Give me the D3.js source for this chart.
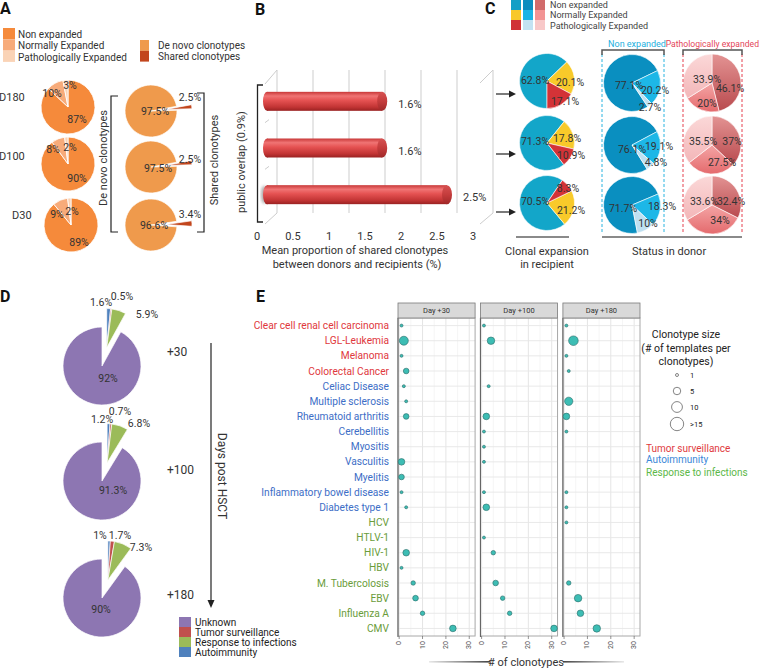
<!DOCTYPE html>
<html><head><meta charset="utf-8">
<script src="https://cdn.jsdelivr.net/npm/d3@7/dist/d3.min.js"></script>
<style>body{margin:0;background:#fff}svg{display:block}text{font-family:Roboto,"Liberation Sans",Arial,sans-serif}</style>
</head><body>
<svg id="c" width="760" height="669"></svg>
<script>
// ================= DATA =================
// Panel A
const aRows = ["D180", "D100", "D30"];
const aExpCats = ["Non expanded", "Normally Expanded", "Pathologically Expanded"];
const aExpVals = [[87, 10, 3], [90, 8, 2], [89, 9, 2]];
const aOriginCats = ["De novo clonotypes", "Shared clonotypes"];
const aOriginVals = [[97.5, 2.5], [97.5, 2.5], [96.6, 3.4]];
// Panel B
const bCats = ["D180", "D100", "D30"];
const bVals = [1.6, 1.6, 2.5];
const bTicks = [0, 0.5, 1, 1.5, 2, 2.5, 3];
// Panel C
const cCats = ["Non expanded", "Normally Expanded", "Pathologically Expanded"];
const cRecipient = [[62.8, 20.1, 17.1], [71.3, 17.8, 10.9], [70.5, 21.2, 8.3]];
const cDonorNon = [[77.1, 20.2, 2.7], [76.1, 19.1, 4.8], [71.7, 18.3, 10]];
const cDonorPath = [[46.1, 20, 33.9], [37, 27.5, 35.5], [32.4, 34, 33.6]];
// Panel D
const dDays = ["+30", "+100", "+180"];
const dCats = ["Autoimmunity", "Tumor surveillance", "Response to infections", "Unknown"];
const dVals = [[1.6, 0.5, 5.9, 92], [1.2, 0.7, 6.8, 91.3], [1, 1.7, 7.3, 90]];
const dLegend = ["Unknown", "Tumor surveillance", "Response to infections", "Autoimmunity"];
// Panel E
const eConditions = ["Clear cell renal cell carcinoma", "LGL-Leukemia", "Melanoma", "Colorectal Cancer",
  "Celiac Disease", "Multiple sclerosis", "Rheumatoid arthritis", "Cerebellitis", "Myositis", "Vasculitis",
  "Myelitis", "Inflammatory bowel disease", "Diabetes type 1", "HCV", "HTLV-1", "HIV-1", "HBV",
  "M. Tubercolosis", "EBV", "Influenza A", "CMV"];
const eGroup = ["T","T","T","T","A","A","A","A","A","A","A","A","A","I","I","I","I","I","I","I","I"];
const eDays = ["Day +30", "Day +100", "Day +180"];
const eCount30  = [1, 2, 1, 3, 2, 3, 3, null, null, 1, 1, 1, 3, null, null, 3, 1, 6, 7, 10, 23];
const eSize30   = [1, 7, 1, 3, 1, 1, 3, null, null, 4, 3, 1, 1, null, null, 4, 1, 2, 3, 2, 4];
const eCount100 = [1, 4, null, null, 3, null, 2, 1, 1, 1, null, 1, 2, null, 1, 5, null, 6, 9, 12, 31];
const eSize100  = [1, 5, null, null, 1, null, 4, 1, 1, 1, null, 1, 4, null, 1, 2, null, 3, 2, 2, 4];
const eCount180 = [1, 4, 1, 2, null, 2, 1, 1, null, null, null, 1, 1, 1, null, null, null, 2, 6, 7, 14];
const eSize180  = [1, 8, 1, 1, null, 6, 4, 1, null, null, null, 1, 1, 1, null, null, null, 2, 5, 4, 5];
const eXTicks = [0, 10, 20, 30];
const eSizeLegend = [1, 5, 10, 15];
const eSizeLegendLabels = ["1", "5", "10", ">15"];
const eGroupLegend = ["Tumor surveillance", "Autoimmunity", "Response to infections"];

// ================= HELPERS =================
const svg = d3.select("#c");
const TXT = "#333";
const defs = svg.append("defs");
function txt(g, x, y, s, o = {}) {
  const t = g.append("text").attr("x", x).attr("y", y).text(s)
    .attr("font-size", o.size || 11).attr("fill", o.fill || TXT)
    .attr("text-anchor", o.anchor || "start").attr("dominant-baseline", o.base || "central");
  if (o.weight) t.attr("font-weight", o.weight);
  if (o.family) t.attr("font-family", o.family);
  if (o.rotate != null) t.attr("transform", `rotate(${o.rotate},${x},${y})`);
  return t;
}
function letter(x, y, s) {
  svg.append("text").attr("x", x).attr("y", y).text(s).attr("font-size", 16)
    .attr("font-weight", "bold").attr("font-family", "'Liberation Sans',Arial,sans-serif").attr("fill", "#111");
}
function vgrad(id, stops) {
  const lg = defs.append("linearGradient").attr("id", id).attr("x1", 0).attr("y1", 0).attr("x2", 0).attr("y2", 1);
  stops.forEach(s => lg.append("stop").attr("offset", s[0]).attr("stop-color", s[1]));
}
const RAD = Math.PI / 180;
function drawPie(g, vals, colors, o) {
  const dir = o.dir || 1;
  const gen = d3.pie().sort(null).value(d => d)
    .startAngle(o.start * RAD).endAngle((o.start + dir * 360) * RAD);
  const arcs = gen(vals);
  const arc = d3.arc().innerRadius(0).outerRadius(o.r);
  const gg = g.append("g").attr("transform", `translate(${o.cx},${o.cy})`);
  arcs.forEach((a, i) => {
    let tx = 0, ty = 0;
    if (o.explode && o.explode.idx.includes(i)) {
      let ang;
      if (o.explode.group) {
        const sel = o.explode.idx.map(k => arcs[k]);
        ang = (d3.min(sel, s => Math.min(s.startAngle, s.endAngle)) + d3.max(sel, s => Math.max(s.startAngle, s.endAngle))) / 2;
      } else ang = (a.startAngle + a.endAngle) / 2;
      tx = Math.sin(ang) * o.explode.dist; ty = -Math.cos(ang) * o.explode.dist;
    }
    gg.append("path").attr("d", arc(a)).attr("fill", colors[i])
      .attr("stroke", "#fff").attr("stroke-width", o.sw == null ? 0.8 : o.sw)
      .attr("transform", `translate(${tx},${ty})`);
  });
  if (o.labels) o.labels.forEach((p, i) => {
    if (p) txt(gg, p[0], p[1], vals[i] + "%", { size: o.fs || 11, anchor: "middle", fill: o.lc || "#333" });
  });
}

// ================= PANEL A =================
letter(0, 14, "A");
const aExpColors = ["#F58A3B", "#F7AB7A", "#FAD3B6"];
const aOrigColors = ["#EF9A4C", "#C2461D"];
const legA = svg.append("g");
aExpCats.forEach((c, i) => {
  legA.append("rect").attr("x", 3).attr("y", 28 + i * 11.3).attr("width", 12).attr("height", 11.3).attr("fill", aExpColors[i]);
  txt(legA, 18, 34 + i * 11.5, c, { size: 10 });
});
aOriginCats.forEach((c, i) => {
  legA.append("rect").attr("x", 140).attr("y", 40 + i * 10.8).attr("width", 9).attr("height", 10.8).attr("fill", aOrigColors[i]);
  txt(legA, 158, 45 + i * 11.5, c, { size: 10 });
});
const aLeftC = [[68, 107], [68, 164], [71, 225]];
const aRightC = [[151, 111], [151, 167], [151, 225]];
const aRowLabelY = [97, 156, 215];
const aRowLabelX = [-1, -1, 12];
const aExpLabels = [
  [[9, 12], [-16, -14], [2, -22]],
  [[9, 14], [-15, -15], [2, -17]],
  [[8, 17], [-14, -11], [1, -14]]];
const aOrigLabels = [
  [[4, 0], [39, -14]],
  [[7, 1], [39, -8]],
  [[3, 0], [39, -11]]];
aRows.forEach((r, i) => {
  txt(svg, aRowLabelX[i], aRowLabelY[i], r, { size: 11 });
  drawPie(svg, aExpVals[i], aExpColors, { cx: aLeftC[i][0], cy: aLeftC[i][1], r: 27, start: 0, labels: aExpLabels[i], fs: 10.5 });
  const shared = aOriginVals[i][1] * 3.6;
  const mid = i === 2 ? 88 : 84;
  drawPie(svg, aOriginVals[i], aOrigColors, { cx: aRightC[i][0], cy: aRightC[i][1], r: 26, start: mid + shared / 2,
    explode: { idx: [1], dist: 15 }, labels: aOrigLabels[i], fs: 10.5, sw: 0.7 });
});
svg.append("path").attr("d", "M118,96H111V232H118").attr("fill", "none").attr("stroke", "#222").attr("stroke-width", 1.2);
svg.append("path").attr("d", "M197,93H204V232H197").attr("fill", "none").attr("stroke", "#222").attr("stroke-width", 1.2);
txt(svg, 103, 158, "De novo  clonotypes", { size: 11, anchor: "middle", rotate: -90 });
txt(svg, 214, 160, "Shared clonotypes", { size: 11, anchor: "middle", rotate: -90 });

// ================= PANEL B =================
letter(255, 15, "B");
const xf = d3.scaleLinear().domain([0, 3]).range([257, 473]);   // front (tick labels)
const xb = d3.scaleLinear().domain([0, 3]).range([277, 493]);   // back wall
const xm = d3.scaleLinear().domain([0, 3]).range([267, 483]);   // bar depth
const yB = d3.scaleBand().domain(bCats).range([78, 218]);
const gB = svg.append("g");
const gridC = "#CDCDCD";
bTicks.forEach(t => {
  gB.append("line").attr("x1", xb(t)).attr("x2", xb(t)).attr("y1", 70).attr("y2", 213).attr("stroke", gridC).attr("stroke-width", 1);
  txt(gB, xf(t), 236, d3.format("")(t), { size: 11, anchor: "middle" });
});
[[xb(0) - 12, 84, xb(0), 70], [xb(0), 213, xb(0) - 12, 224], [xb(3) - 13, 83, xb(3), 70], [xb(3), 213, xb(3) - 13, 224]]
  .forEach(l => gB.append("line").attr("x1", l[0]).attr("y1", l[1]).attr("x2", l[2]).attr("y2", l[3]).attr("stroke", gridC));
[yB("D100"), yB("D30")].forEach(y => gB.append("line").attr("x1", 265).attr("x2", 269).attr("y1", y - 2).attr("y2", y - 5).attr("stroke", gridC));
gB.append("path").attr("d", "M263,85H257.5V222H263").attr("fill", "none").attr("stroke", "#222").attr("stroke-width", 1.3);
txt(gB, 241, 162, "public overlap (0.9%)", { size: 11, anchor: "middle", rotate: -90 });
vgrad("cyl", [[0, "#C83838"], [0.22, "#F07474"], [0.45, "#E55252"], [0.8, "#C23434"], [1, "#9A2222"]]);
vgrad("cap", [[0, "#D65252"], [0.5, "#C43C3C"], [1, "#A02828"]]);
const blur = defs.append("filter").attr("id", "blur"); blur.append("feGaussianBlur").attr("stdDeviation", 1.6);
gB.append("ellipse").attr("cx", 264).attr("cy", yB("D30") + yB.bandwidth() / 2).attr("rx", 3).attr("ry", 9)
  .attr("fill", "#777").attr("opacity", 0.6).attr("filter", "url(#blur)");
bCats.forEach((c, i) => {
  const yc = yB(c) + yB.bandwidth() / 2, h = 19, x0 = xm(0), x1 = xm(bVals[i]);
  gB.append("ellipse").attr("cx", x0).attr("cy", yc).attr("rx", 4).attr("ry", h / 2).attr("fill", "url(#cyl)");
  gB.append("rect").attr("x", x0).attr("y", yc - h / 2).attr("width", x1 - x0).attr("height", h).attr("fill", "url(#cyl)");
  gB.append("ellipse").attr("cx", x1).attr("cy", yc).attr("rx", 5).attr("ry", h / 2).attr("fill", "url(#cap)");
  txt(gB, x1 + 16, yc + 3, bVals[i] + "%", { size: 11 });
});
txt(gB, 355, 250, "Mean proportion of shared clonotypes", { size: 11, anchor: "middle" });
txt(gB, 357, 264, "between donors and recipients  (%)", { size: 11, anchor: "middle" });

// ================= PANEL C =================
letter(485, 14, "C");
const cRecColors = ["#13A6C9", "#F8CA2A", "#D33337"];
const cNonColors = ["#0A8FC0", "#1DB7E7", "#BFE0F1"];
vgrad("pd", [[0, "#E39393"], [1, "#B94A4E"]]);
vgrad("pm", [[0, "#F4A5A5"], [1, "#E46A6D"]]);
vgrad("pp", [[0, "#FBD8D8"], [1, "#F3B6B8"]]);
const cPathColors = ["url(#pd)", "url(#pm)", "url(#pp)"];
const cLegCols = [["#139FC6", "#F8C82A", "#D03237"], ["#0B8DBF", "#19B5E6", "#C3E2F2"], ["#D16B6B", "#F29494", "#F8C8C8"]];
const cLegX = [511, 523, 535];
cLegCols.forEach((col, j) => col.forEach((clr, i) =>
  svg.append("rect").attr("x", cLegX[j]).attr("y", i * 10).attr("width", 10).attr("height", 10).attr("fill", clr)));
cCats.forEach((c, i) => txt(svg, 550, [5, 15, 26][i], c, { size: 9, fill: "#444" }));
const cY = [82, 144, 204];
const cRecStart = [[180, 1], [142, 1], [394, -1]];
const cRecLabels = [
  [[-12, -1], [23, 1], [18, 20]],
  [[-12, -2], [20, -5], [24, 12]],
  [[-12, -2], [24, 7], [21, -15]]];
const cNonStart = [146.5, 148, 169];
const cNonLabels = [
  [[-3, 2], [23, 7], [18, 24]],
  [[0, 4], [27, 1], [24, 17]],
  [[-9, 3], [30, 1], [16, 18]]];
const cPathLabels = [
  [[18, 5], [-5, 20], [-5, -4]],
  [[20, -4], [10, 17], [-9, -4]],
  [[19, -4], [8, 15], [-8, -4]]];
cY.forEach((cy, i) => {
  const ay = cy + 12 - i * 2;
  svg.append("line").attr("x1", 496).attr("x2", 510).attr("y1", ay).attr("y2", ay).attr("stroke", "#222").attr("stroke-width", 1.2);
  svg.append("path").attr("d", `M509,${ay - 3.5}L516,${ay}L509,${ay + 3.5}Z`).attr("fill", "#222");
  drawPie(svg, cRecipient[i], cRecColors, { cx: 547, cy: cy - 1, r: 27.5, start: cRecStart[i][0], dir: cRecStart[i][1],
    labels: cRecLabels[i], fs: 10.5, lc: "#333", sw: 0.6 });
  drawPie(svg, cDonorNon[i], cNonColors, { cx: 632, cy: cy + 1, r: 28.5, start: cNonStart[i], labels: cNonLabels[i], fs: 10.5, sw: 0.6 });
  drawPie(svg, cDonorPath[i], cPathColors, { cx: 712, cy: cy + 1, r: 29, start: 0, labels: cPathLabels[i], fs: 10.5, sw: 0.6 });
});
[[602, 664, "#2AB4E0"], [683, 742, "#E5414E"]].forEach(d => {
  [d[0], d[1]].forEach(x => svg.append("line").attr("x1", x).attr("x2", x).attr("y1", 54).attr("y2", 232)
    .attr("stroke", d[2]).attr("stroke-width", 1).attr("stroke-dasharray", "3,2"));
  svg.append("path").attr("d", `M${d[0]},55V50H${d[1]}V55`).attr("fill", "none").attr("stroke", "#555").attr("stroke-width", 1.5);
});
txt(svg, 637, 44, "Non expanded", { size: 9, anchor: "middle", fill: "#24B0DE" });
txt(svg, 759, 44, "Pathologically expanded", { size: 8.6, anchor: "end", fill: "#E4465A" });
svg.append("line").attr("x1", 516).attr("x2", 569).attr("y1", 237).attr("y2", 237).attr("stroke", "#8A8A8A").attr("stroke-width", 2);
svg.append("line").attr("x1", 602).attr("x2", 742).attr("y1", 237).attr("y2", 237).attr("stroke", "#8A8A8A").attr("stroke-width", 2);
txt(svg, 547, 251, "Clonal expansion", { size: 11, anchor: "middle" });
txt(svg, 547, 264, "in recipient", { size: 11, anchor: "middle" });
txt(svg, 669, 251, "Status in donor", { size: 11, anchor: "middle" });

// ================= PANEL D =================
letter(0, 302, "D");
const dColors = ["#4F81BD", "#C0504D", "#9BBB59", "#8D76B2"];
const dLegColors = ["#8D76B2", "#C0504D", "#9BBB59", "#4F81BD"];
const dCy = [366, 481, 598];
const dLabels = [
  [[-1, -64], [20, -70], [45, -52], [6, 12]],
  [[0, -62], [18, -70], [37, -58], [11, 9]],
  [[-2, -63], [18, -63], [39, -51], [-1, 11]]];
const dDayY = [352, 470, 595];
dDays.forEach((d, i) => {
  drawPie(svg, dVals[i], dColors, { cx: 102, cy: dCy[i], r: 39, start: 0, sw: 0.7,
    explode: { idx: [0, 1, 2], dist: 19, group: true }, labels: dLabels[i], fs: 10.5 });
  txt(svg, 167, dDayY[i], d, { size: 12 });
});
svg.append("line").attr("x1", 211).attr("x2", 211).attr("y1", 343).attr("y2", 601).attr("stroke", "#222").attr("stroke-width", 1.2);
svg.append("path").attr("d", "M207.5,600L211,608L214.5,600Z").attr("fill", "#222");
txt(svg, 222, 476, "Days post HSCT", { size: 12, anchor: "middle", rotate: 90 });
dLegend.forEach((c, i) => {
  svg.append("rect").attr("x", 179).attr("y", 617 + i * 10).attr("width", 12).attr("height", 10).attr("fill", dLegColors[i]);
  txt(svg, 195, 622.5 + i * 10, c, { size: 10, fill: "#222" });
});

// ================= PANEL E =================
letter(256, 302, "E");
const groupColor = { T: "#E0383D", A: "#3D6EC6", I: "#6A9C3A" };
const legendGroupColor = ["#E03A3E", "#3A87D8", "#5CB848"];
const fx = d3.scaleBand().domain(eDays).range([398, 640]).paddingInner(0.065);
const ex = d3.scaleLinear().domain([-0.5, 32.5]).range([0, fx.bandwidth()]);
const ey = d3.scalePoint().domain(eConditions).range([318, 636]).padding(0.5);
const er = d3.scaleSqrt().domain([1, 15]).range([1.5, 6.7]);
eConditions.forEach((c, i) => txt(svg, 389, ey(c), c, { size: 10.2, anchor: "end", fill: groupColor[eGroup[i]] }));
const eCounts = [eCount30, eCount100, eCount180];
const eSizes = [eSize30, eSize100, eSize180];
eDays.forEach((d, k) => {
  const g = svg.append("g").attr("transform", `translate(${fx(d)},0)`);
  const w = fx.bandwidth();
  g.append("rect").attr("x", 0).attr("y", 318).attr("width", w).attr("height", 318).attr("fill", "#fff");
  d3.range(0, 31, 5).forEach(v => g.append("line").attr("x1", ex(v)).attr("x2", ex(v)).attr("y1", 318).attr("y2", 636)
    .attr("stroke", v % 10 === 0 ? "#E2E2E2" : "#EFEFEF").attr("stroke-width", v % 10 === 0 ? 0.9 : 0.6));
  eConditions.forEach(c => g.append("line").attr("x1", 0).attr("x2", w).attr("y1", ey(c)).attr("y2", ey(c))
    .attr("stroke", "#E6E6E6").attr("stroke-width", 0.9));
  g.append("rect").attr("x", 0).attr("y", 318).attr("width", w).attr("height", 318).attr("fill", "none").attr("stroke", "#A8A8A8").attr("stroke-width", 1);
  g.append("line").attr("x1", 0).attr("x2", 0).attr("y1", 318).attr("y2", 637).attr("stroke", "#666").attr("stroke-width", 1.1);
  g.append("rect").attr("x", 0).attr("y", 303).attr("width", w).attr("height", 15).attr("fill", "#D9D9D9").attr("stroke", "#7A7A7A").attr("stroke-width", 0.8);
  txt(g, w / 2, 310.5, d, { size: 7.5, anchor: "middle", fill: "#333" });
  eXTicks.forEach(t => {
    g.append("line").attr("x1", ex(t)).attr("x2", ex(t)).attr("y1", 636).attr("y2", 639).attr("stroke", "#666").attr("stroke-width", 0.7);
    txt(g, ex(t), 641, String(t), { size: 7, anchor: "end", fill: "#4D4D4D", rotate: -90 });
  });
  eConditions.forEach((c, i) => {
    const v = eCounts[k][i];
    if (v == null) return;
    g.append("circle").attr("cx", ex(v)).attr("cy", ey(c)).attr("r", er(eSizes[k][i]))
      .attr("fill", "#3DBDB4").attr("stroke", "#2C6C68").attr("stroke-width", 0.6);
  });
});
const lgL = defs.append("linearGradient").attr("id", "fadeL");
lgL.append("stop").attr("offset", 0).attr("stop-color", "#E8E8E8");
lgL.append("stop").attr("offset", 1).attr("stop-color", "#444");
const lgR = defs.append("linearGradient").attr("id", "fadeR");
lgR.append("stop").attr("offset", 0).attr("stop-color", "#444");
lgR.append("stop").attr("offset", 1).attr("stop-color", "#E8E8E8");
svg.append("rect").attr("x", 429).attr("y", 661).attr("width", 61).attr("height", 1.6).attr("fill", "url(#fadeL)");
svg.append("rect").attr("x", 563).attr("y", 661).attr("width", 61).attr("height", 1.6).attr("fill", "url(#fadeR)");
txt(svg, 526, 662, "# of clonotypes", { size: 11, anchor: "middle" });
// legend
txt(svg, 686, 334, "Clonotype size", { size: 10.5, anchor: "middle", fill: "#222" });
txt(svg, 686, 348, "(# of templates per", { size: 10.5, anchor: "middle", fill: "#222" });
txt(svg, 686, 361, "clonotypes)", { size: 10.5, anchor: "middle", fill: "#222" });
eSizeLegend.forEach((s, i) => {
  const y = [375, 391, 407, 424][i];
  svg.append("circle").attr("cx", 677).attr("cy", y).attr("r", er(s)).attr("fill", "none").attr("stroke", "#666").attr("stroke-width", 0.8);
  txt(svg, 690, y, eSizeLegendLabels[i], { size: 7.5, fill: "#222" });
});
eGroupLegend.forEach((g, i) => txt(svg, 646, [448, 459, 472][i], g, { size: 10, fill: legendGroupColor[i] }));
</script>
</body></html>
